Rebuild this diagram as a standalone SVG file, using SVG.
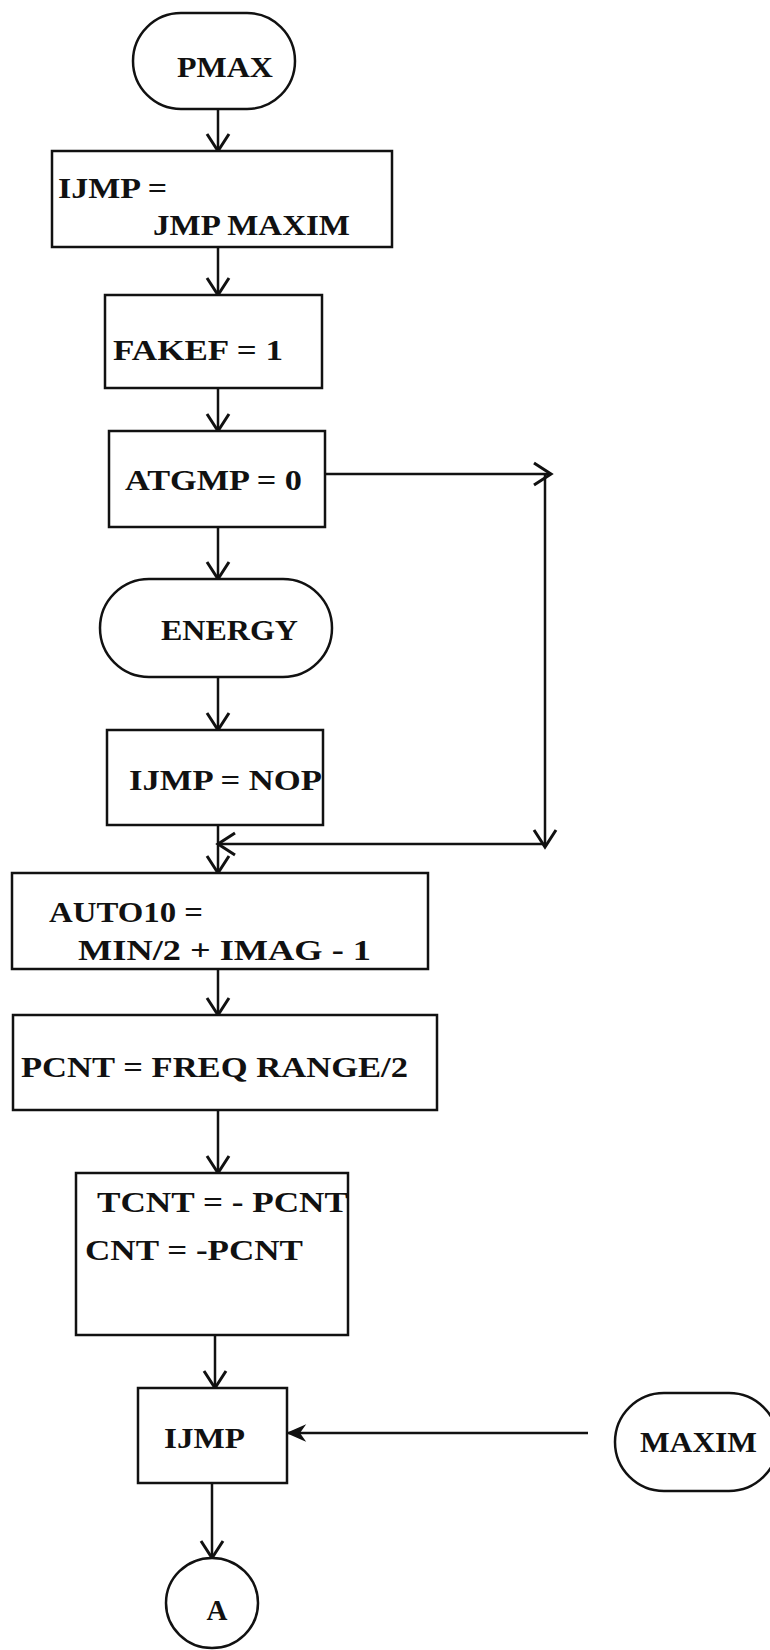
<svg xmlns="http://www.w3.org/2000/svg" width="770" height="1650" viewBox="0 0 770 1650" xml:space="preserve">
<defs>
<marker id="arr" markerUnits="userSpaceOnUse" markerWidth="30" markerHeight="30" viewBox="-20 -15 24 30" refX="0" refY="0" orient="auto">
<path d="M-17,-11 L0,0 L-17,11" fill="none" stroke="#111" stroke-width="3"/>
</marker>
<marker id="arrf" markerUnits="userSpaceOnUse" markerWidth="30" markerHeight="30" viewBox="-20 -15 24 30" refX="0" refY="0" orient="auto">
<path d="M-16,-7 L0,0 L-16,7 L-11,0 Z" fill="#111" stroke="#111" stroke-width="1.5"/>
</marker>
</defs>
<style>
.n{fill:#fff;stroke:#111;stroke-width:2.5}
.t{font-family:"Liberation Serif","DejaVu Serif",serif;font-weight:bold;font-size:29px;fill:#111}
.c{fill:none;stroke:#111;stroke-width:2.5}
</style>
<rect width="770" height="1650" fill="#fff"/>
<g id="connectors">
<line class="c" x1="218" y1="109" x2="218" y2="151" marker-end="url(#arr)"/>
<line class="c" x1="218" y1="247" x2="218" y2="295" marker-end="url(#arr)"/>
<line class="c" x1="218" y1="388" x2="218" y2="431" marker-end="url(#arr)"/>
<line class="c" x1="325" y1="474" x2="551" y2="474" marker-end="url(#arr)"/>
<line class="c" x1="545" y1="474" x2="545" y2="847" marker-end="url(#arr)"/>
<line class="c" x1="545" y1="844" x2="218" y2="844" marker-end="url(#arr)"/>
<line class="c" x1="218" y1="527" x2="218" y2="579" marker-end="url(#arr)"/>
<line class="c" x1="218" y1="677" x2="218" y2="730" marker-end="url(#arr)"/>
<line class="c" x1="218" y1="825" x2="218" y2="873" marker-end="url(#arr)"/>
<line class="c" x1="218" y1="969" x2="218" y2="1015" marker-end="url(#arr)"/>
<line class="c" x1="218" y1="1110" x2="218" y2="1173" marker-end="url(#arr)"/>
<line class="c" x1="215" y1="1335" x2="215" y2="1388" marker-end="url(#arr)"/>
<line class="c" x1="588" y1="1433" x2="288" y2="1433" marker-end="url(#arrf)"/>
<line class="c" x1="212" y1="1483" x2="212" y2="1558" marker-end="url(#arr)"/>
</g>
<g id="pmax">
<rect class="n" x="133" y="13" width="162" height="96" rx="48" ry="48"/>
<text class="t" x="177" y="77" textLength="96" lengthAdjust="spacingAndGlyphs">PMAX</text>
</g>
<g id="ijmp-jmp-maxim">
<rect class="n" x="52" y="151" width="340" height="96"/>
<text class="t" x="58" y="198" textLength="109" lengthAdjust="spacingAndGlyphs">IJMP =</text>
<text class="t" x="153" y="235" textLength="197" lengthAdjust="spacingAndGlyphs">JMP MAXIM</text>
</g>
<g id="fakef">
<rect class="n" x="105" y="295" width="217" height="93"/>
<text class="t" x="113" y="360" textLength="170" lengthAdjust="spacingAndGlyphs">FAKEF = 1</text>
</g>
<g id="atgmp">
<rect class="n" x="109" y="431" width="216" height="96"/>
<text class="t" x="125" y="490" textLength="177" lengthAdjust="spacingAndGlyphs">ATGMP = 0</text>
</g>
<g id="energy">
<rect class="n" x="100" y="579" width="232" height="98" rx="49" ry="49"/>
<text class="t" x="161" y="640" textLength="137" lengthAdjust="spacingAndGlyphs">ENERGY</text>
</g>
<g id="ijmp-nop">
<rect class="n" x="107" y="730" width="216" height="95"/>
<text class="t" x="129" y="790" textLength="193" lengthAdjust="spacingAndGlyphs">IJMP = NOP</text>
</g>
<g id="auto10">
<rect class="n" x="12" y="873" width="416" height="96"/>
<text class="t" x="49" y="922" textLength="154" lengthAdjust="spacingAndGlyphs">AUTO10 =</text>
<text class="t" x="78" y="960" textLength="293" lengthAdjust="spacingAndGlyphs">MIN/2 +  IMAG - 1</text>
</g>
<g id="pcnt">
<rect class="n" x="13" y="1015" width="424" height="95"/>
<text class="t" x="21" y="1077" textLength="387" lengthAdjust="spacingAndGlyphs">PCNT = FREQ RANGE/2</text>
</g>
<g id="tcnt">
<rect class="n" x="76" y="1173" width="272" height="162"/>
<text class="t" x="97" y="1212" textLength="251" lengthAdjust="spacingAndGlyphs">TCNT = - PCNT</text>
<text class="t" x="85" y="1260" textLength="218" lengthAdjust="spacingAndGlyphs">CNT = -PCNT</text>
</g>
<g id="ijmp">
<rect class="n" x="138" y="1388" width="149" height="95"/>
<text class="t" x="164" y="1448" textLength="81" lengthAdjust="spacingAndGlyphs">IJMP</text>
</g>
<g id="maxim">
<rect class="n" x="615" y="1393" width="163" height="98" rx="49" ry="49"/>
<text class="t" x="640" y="1452" textLength="117" lengthAdjust="spacingAndGlyphs">MAXIM</text>
</g>
<g id="a">
<ellipse class="n" cx="212" cy="1603" rx="46" ry="45"/>
<text class="t" x="217" y="1620" text-anchor="middle" font-size="25">A</text>
</g>
</svg>
